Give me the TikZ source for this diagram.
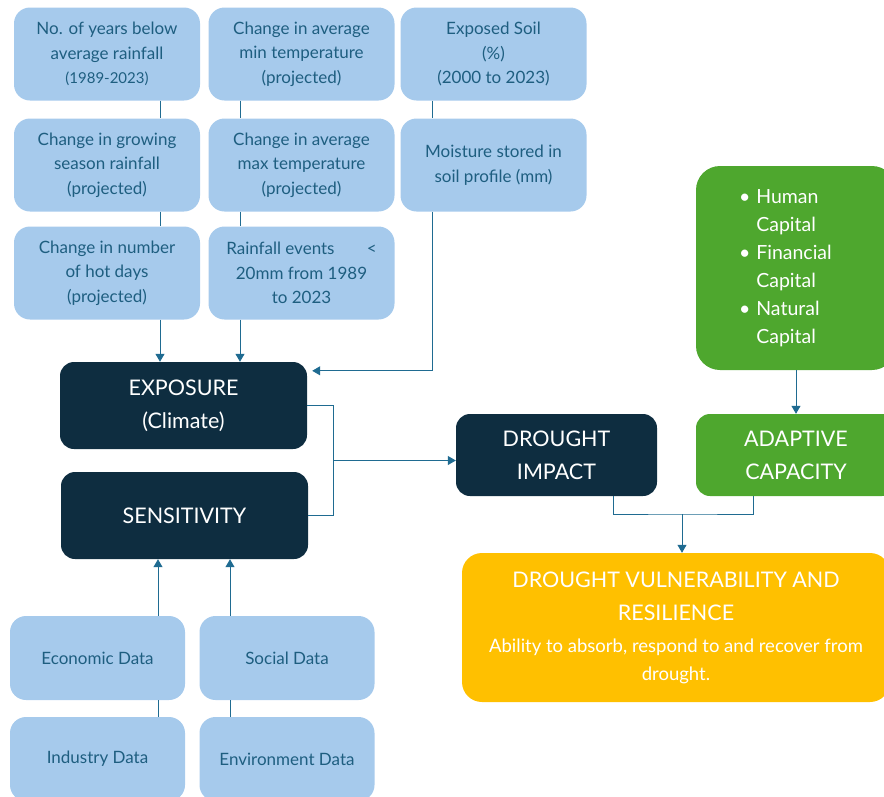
\documentclass[tikz,border=0pt]{standalone}
\usepackage{fontspec}
\setmainfont{Lato}
\usetikzlibrary{positioning,calc,arrows.meta}
\definecolor{dvblue}{HTML}{A6CAEC}
\definecolor{dvtext}{HTML}{1E5E80}
\definecolor{dvnavy}{HTML}{0E2D40}
\definecolor{dvgreen}{HTML}{4EA72E}
\definecolor{dvyellow}{HTML}{FFC000}
\definecolor{dvline}{HTML}{1F6B91}
\newcommand{\notefont}{\fontsize{18.5}{28}\selectfont}
\newcommand{\bull}{\textbullet\hspace{6pt}}

\begin{document}
\begin{tikzpicture}[x=1pt,y=-1pt,
    indicator/.style={rectangle, rounded corners=16pt, fill=dvblue, text=dvtext, align=center,
        minimum width=186pt, minimum height=93pt, inner sep=2pt, font=\fontsize{17}{24.5}\selectfont},
    datum/.style={indicator, minimum width=175pt, minimum height=84pt},
    core/.style={rectangle, rounded corners=14pt, fill=dvnavy, text=white, align=center,
        minimum width=247pt, minimum height=87pt, inner sep=2pt, font=\fontsize{21.5}{33}\selectfont},
    link/.style={draw=dvline, line width=1pt},
    arr/.style={link, -{Triangle[width=9pt,length=8pt]}}]
    \useasboundingbox (0,0) rectangle (884,796);
    \clip (0,0) rectangle (884,796);

    % Climate indicators
    \node[indicator] (rainA) at (107,54) {No. of years below\\average rainfall\\\fontsize{15}{24.5}\selectfont (1989-2023)};
    \node[indicator] (rainB) at (107,165) {Change in growing\\season rainfall\\(projected)};
    \node[indicator] (rainC) at (107,273) {Change in number\\of hot days\\(projected)};
    \node[indicator] (tempA) at (301.5,54) {Change in average\\min temperature\\(projected)};
    \node[indicator] (tempB) at (301.5,165) {Change in average\\max temperature\\(projected)};
    \node[indicator] (tempC) at (301.5,273) {Rainfall events\hspace{1.9em}<\\20mm from 1989\\to 2023};
    \node[indicator] (soilA) at (493.5,54) {Exposed Soil\\(\%)\\(2000 to 2023)};
    \node[indicator] (soilB) at (493.5,165) {Moisture stored in\\soil profile (mm)};

    % Socio-economic data
    \node[datum] (econ) at (97.5,658) {Economic Data};
    \node[datum] (social) at (287,658) {Social Data};
    \node[datum] (industry) at (97.5,759) {Industry Data};
    \node[datum] (environ) at (287,759) {Environment Data};

    % Core boxes
    \node[core] (expo) at (183.5,405.5) {EXPOSURE\\(Climate)};
    \node[core] (sens) at (184.5,515.5) {SENSITIVITY};
    \node[core, minimum width=201pt, minimum height=82pt] (impact) at (556.5,455) {DROUGHT\\IMPACT};
    \node[core, fill=dvgreen, minimum width=200pt, minimum height=82pt] (adapt) at (796,455) {ADAPTIVE\\CAPACITY};
    \node[rectangle, rounded corners=24pt, fill=dvgreen, text=white, align=left,
          minimum height=204pt, text width=114pt, inner xsep=43pt,
          font=\fontsize{19.5}{28}\selectfont] (capital) at (796,268)
          {\bull Human\\\phantom{\bull}Capital\\\bull Financial\\\phantom{\bull}Capital\\\bull Natural\\\phantom{\bull}Capital};
    \node[core, fill=dvyellow, rounded corners=20pt, minimum width=428pt, minimum height=149pt] (vuln) at (676,627.5)
          {DROUGHT VULNERABILITY AND\\RESILIENCE\\[-1pt]\notefont Ability to absorb, respond to and recover from\\[-5pt]\notefont drought.};

    % Connectors
    \coordinate (colA) at (160,0);
    \coordinate (colB) at (240,0);
    \coordinate (colC) at (432,0);
    \coordinate (colD) at (158,0);
    \coordinate (colE) at (230,0);
    \coordinate (leftIn) at (613,0);
    \coordinate (rightIn) at (753,0);
    \coordinate (merge) at (682,514);

    \draw[link] (rainA.south -| colA) -- (rainB.north -| colA);
    \draw[link] (rainB.south -| colA) -- (rainC.north -| colA);
    \draw[arr] (rainC.south -| colA) -- (expo.north -| colA);
    \draw[link] (tempA.south -| colB) -- (tempB.north -| colB);
    \draw[link] (tempB.south -| colB) -- (tempC.north -| colB);
    \draw[arr] (tempC.south -| colB) -- (expo.north -| colB);
    \draw[link] (soilA.south -| colC) -- (soilB.north -| colC);
    \draw[arr] (soilB.south -| colC) |- ([yshift=-9pt, xshift=5pt]expo.north east);

    \draw[link] (industry.north -| colD) -- (econ.south -| colD);
    \draw[arr] (econ.north -| colD) -- (sens.south -| colD);
    \draw[link] (environ.north -| colE) -- (social.south -| colE);
    \draw[arr] (social.north -| colE) -- (sens.south -| colE);

    % Exposure + sensitivity into impact
    \draw[link] (expo.east) -- ++(26,0) |- (sens.east);
    \coordinate (join) at ($(expo.east)!0.5!(sens.east)+(26,0)$);
    \draw[arr] (join) -- (join -| impact.west);

    % Impact + capacity into vulnerability
    \draw[arr] (capital.south) -- (adapt.north);
    \draw[link] (impact.south -| leftIn) |- (merge) -| (adapt.south -| rightIn);
    \draw[arr] (merge) -- (vuln.north -| merge);
\end{tikzpicture}
\end{document}
